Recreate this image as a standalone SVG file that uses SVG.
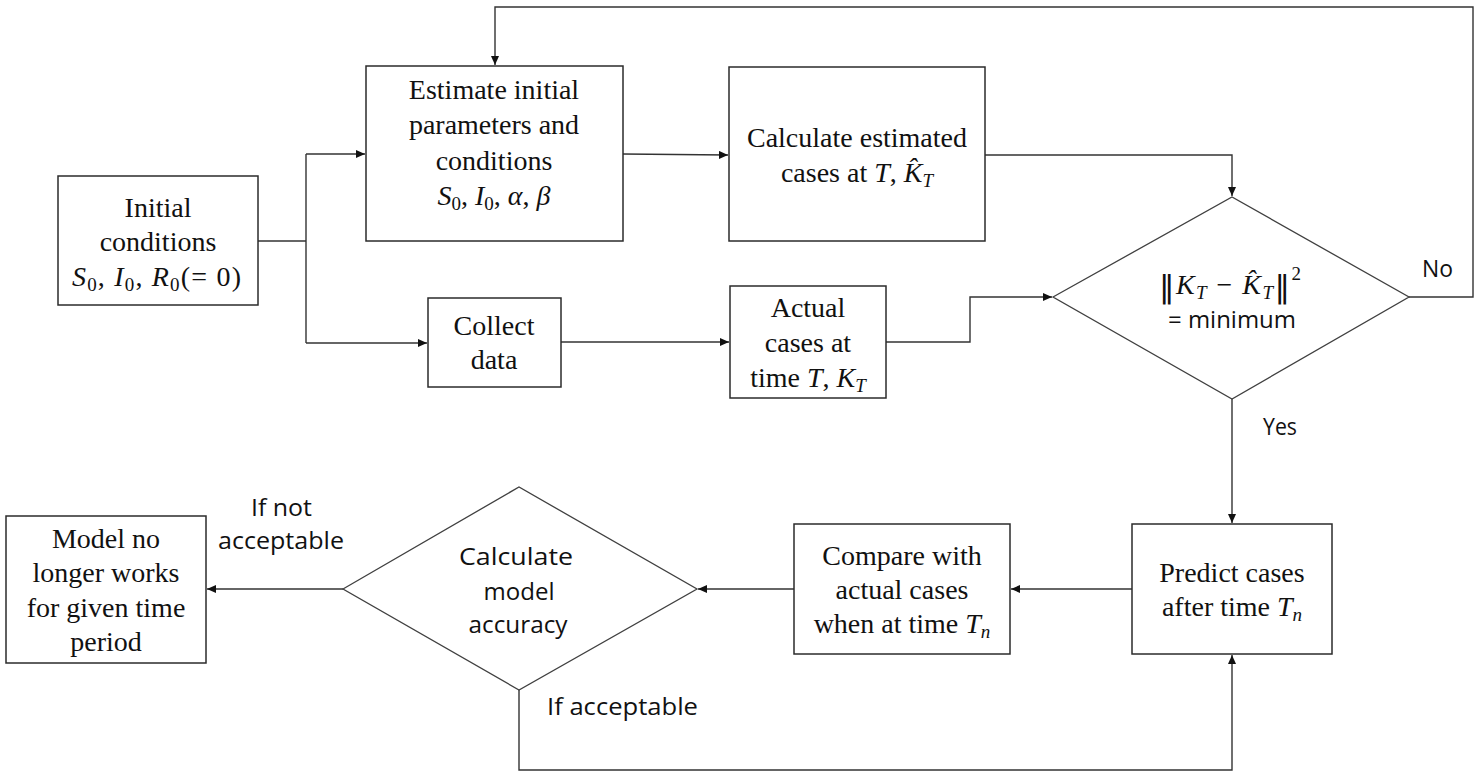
<svg xmlns="http://www.w3.org/2000/svg" width="1481" height="773" viewBox="0 0 1481 773">
<style>
.bx{fill:#fff;stroke:#2b2b2b;stroke-width:1.5}
.dm{fill:#fff;stroke:#404040;stroke-width:1.3}
.ln{fill:none;stroke:#333;stroke-width:1.4}
.t{font-family:"Liberation Serif","Times New Roman",serif;font-size:28px;fill:#111;text-anchor:middle}
.st{text-anchor:start}
.i{font-style:italic}
.s{font-family:"Open Sans","Liberation Sans",sans-serif;font-size:23px;fill:#111}
.c{text-anchor:middle}
.bar{font-family:"DejaVu Sans",sans-serif;font-size:31px;font-style:normal}
</style>
<defs>
<marker id="ah" markerWidth="10" markerHeight="8" refX="9" refY="4" orient="auto" markerUnits="userSpaceOnUse">
<path d="M0,0 L9,4 L0,8 Z" fill="#111"/>
</marker>
</defs>
<rect width="1481" height="773" fill="#fff"/>

<g id="connectors">
<polyline class="ln" points="258,241 306,241"/>
<polyline class="ln" points="306,154 306,343"/>
<polyline class="ln" points="306,154 365,154" marker-end="url(#ah)"/>
<polyline class="ln" points="306,343 427,343" marker-end="url(#ah)"/>
<polyline class="ln" points="623,154 728,155" marker-end="url(#ah)"/>
<polyline class="ln" points="985,155 1232,155 1232,196" marker-end="url(#ah)"/>
<polyline class="ln" points="561,342 729,342" marker-end="url(#ah)"/>
<polyline class="ln" points="886,342 970,342 970,297 1052,297" marker-end="url(#ah)"/>
<polyline class="ln" points="1409,297 1473,297 1473,7 495,7 495,65" marker-end="url(#ah)"/>
<polyline class="ln" points="1232,399 1232,523" marker-end="url(#ah)"/>
<polyline class="ln" points="1132,589 1011,589" marker-end="url(#ah)"/>
<polyline class="ln" points="794,589 698,589" marker-end="url(#ah)"/>
<polyline class="ln" points="343,589 207,589" marker-end="url(#ah)"/>
<polyline class="ln" points="519,690 519,770 1232,770 1232,655" marker-end="url(#ah)"/>
<text class="s" x="1422" y="277" textLength="31" lengthAdjust="spacingAndGlyphs">No</text>
<text class="s" x="1263" y="435" textLength="34" lengthAdjust="spacingAndGlyphs">Yes</text>
<text class="s" x="251" y="516" textLength="61" lengthAdjust="spacingAndGlyphs">If not</text>
<text class="s" x="218" y="549" textLength="126" lengthAdjust="spacingAndGlyphs">acceptable</text>
<text class="s" x="547" y="715" textLength="151" lengthAdjust="spacingAndGlyphs">If acceptable</text>
</g>

<g id="initial">
<rect class="bx" x="58" y="176" width="200" height="129"/>
<text class="t" x="158" y="217">Initial</text>
<text class="t" x="158" y="251">conditions</text>
<text class="t st" x="72" y="286" textLength="169" lengthAdjust="spacing"><tspan class="i">S</tspan><tspan font-size="19" dy="5">0</tspan><tspan dy="-5">, </tspan><tspan class="i">I</tspan><tspan font-size="19" dy="5">0</tspan><tspan dy="-5">, </tspan><tspan class="i">R</tspan><tspan font-size="19" dy="5">0</tspan><tspan dy="-5">(= 0)</tspan></text>
</g>

<g id="estimate">
<rect class="bx" x="366" y="66" width="257" height="175"/>
<text class="t" x="494" y="99">Estimate initial</text>
<text class="t" x="494" y="134">parameters and</text>
<text class="t" x="494" y="170">conditions</text>
<text class="t" x="494" y="205"><tspan class="i">S</tspan><tspan font-size="19" dy="5">0</tspan><tspan dy="-5">, </tspan><tspan class="i">I</tspan><tspan font-size="19" dy="5">0</tspan><tspan dy="-5">, </tspan><tspan class="i">α</tspan><tspan>, </tspan><tspan class="i">β</tspan></text>
</g>

<g id="calculate">
<rect class="bx" x="729" y="67" width="256" height="174"/>
<text class="t" x="857" y="147">Calculate estimated</text>
<text class="t" x="857" y="182">cases at <tspan class="i">T</tspan>, <tspan class="i">K̂</tspan><tspan class="i" font-size="19" dy="5">T</tspan></text>
</g>

<g id="collect">
<rect class="bx" x="428" y="298" width="133" height="89"/>
<text class="t" x="494" y="335">Collect</text>
<text class="t" x="494" y="369">data</text>
</g>

<g id="actual">
<rect class="bx" x="730" y="286" width="156" height="112"/>
<text class="t" x="808" y="317">Actual</text>
<text class="t" x="808" y="352">cases at</text>
<text class="t" x="808" y="387">time <tspan class="i">T</tspan>, <tspan class="i">K</tspan><tspan class="i" font-size="19" dy="5">T</tspan></text>
</g>

<g id="decision-min">
<polygon class="dm" points="1053,297 1232,197 1409,297 1232,399"/>
<text class="t st" x="1159" y="294" textLength="142" lengthAdjust="spacing"><tspan class="bar" dy="3">‖</tspan><tspan class="i" dy="-3">K</tspan><tspan class="i" font-size="19" dy="5">T</tspan><tspan dy="-5"> − </tspan><tspan class="i">K̂</tspan><tspan class="i" font-size="19" dy="5">T</tspan><tspan class="bar" dy="-2">‖</tspan><tspan font-size="19" dy="-17">2</tspan></text>
<text class="s c" x="1232" y="328" textLength="128" lengthAdjust="spacingAndGlyphs">= minimum</text>
</g>

<g id="predict">
<rect class="bx" x="1132" y="524" width="200" height="130"/>
<text class="t" x="1232" y="582">Predict cases</text>
<text class="t" x="1232" y="616">after time <tspan class="i">T</tspan><tspan class="i" font-size="19" dy="5">n</tspan></text>
</g>

<g id="compare">
<rect class="bx" x="794" y="524" width="216" height="130"/>
<text class="t" x="902" y="565">Compare with</text>
<text class="t" x="902" y="599">actual cases</text>
<text class="t" x="902" y="633">when at time <tspan class="i">T</tspan><tspan class="i" font-size="19" dy="5">n</tspan></text>
</g>

<g id="decision-accuracy">
<polygon class="dm" points="343,589 519,487 697,589 519,690"/>
<text class="s c" x="516" y="565" textLength="114" lengthAdjust="spacingAndGlyphs">Calculate</text>
<text class="s c" x="519" y="600" textLength="71" lengthAdjust="spacingAndGlyphs">model</text>
<text class="s c" x="518" y="633" textLength="99" lengthAdjust="spacingAndGlyphs">accuracy</text>
</g>

<g id="model-fail">
<rect class="bx" x="6" y="516" width="200" height="147"/>
<text class="t" x="106" y="548">Model no</text>
<text class="t" x="106" y="582">longer works</text>
<text class="t" x="106" y="617">for given time</text>
<text class="t" x="106" y="651">period</text>
</g>
</svg>
